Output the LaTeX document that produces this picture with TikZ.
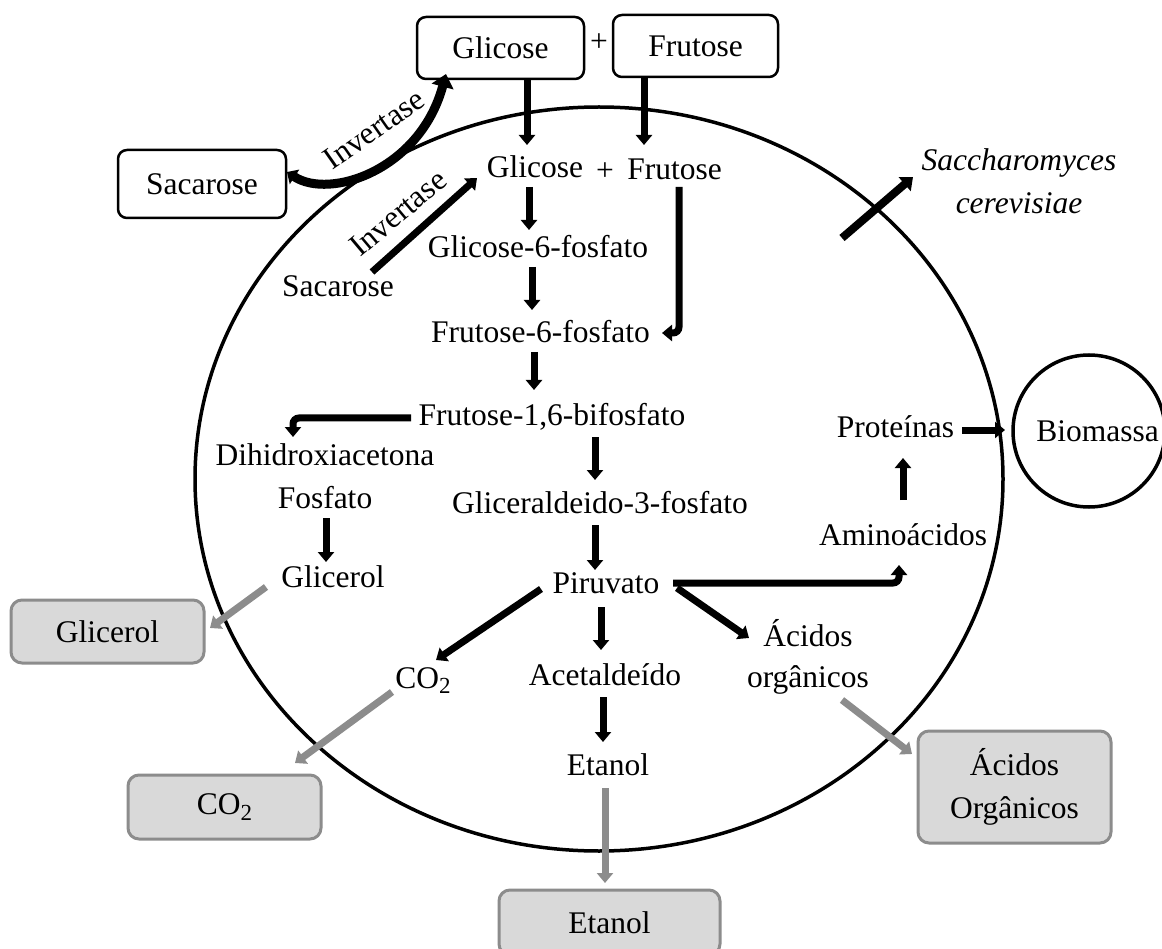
\documentclass[tikz,border=0pt]{standalone}
\usepackage{fontspec}
\setmainfont{Liberation Serif}
\usetikzlibrary{arrows.meta}
\definecolor{boxgray}{HTML}{D9D9D9}
\definecolor{edgegray}{HTML}{8C8C8C}
\definecolor{arrgray}{HTML}{8C8C8C}
\begin{document}
\begin{tikzpicture}[x=1pt,y=-1pt,
  every node/.style={font=\fontsize{31.5pt}{38pt}\selectfont, inner sep=0pt, outer sep=0pt},
  txt/.style={anchor=base},
  wbox/.style={draw=black, line width=2.5pt, rounded corners=9pt, fill=white, align=center},
  gbox/.style={draw=edgegray, line width=3pt, rounded corners=11pt, fill=boxgray, align=center},
  arr/.style={line width=7pt, -{Triangle[width=16pt,length=10pt]}},
  garr/.style={arr, draw=arrgray, -{Triangle[width=16pt,length=10pt,fill=arrgray]}},
  elb/.style={arr, rounded corners=6pt},
]
\useasboundingbox (0,0) rectangle (1162,949);

% cell membrane
\draw[line width=3.5pt] (599,479) ellipse [x radius=404pt, y radius=372pt];

% outer boxes
\node[wbox, minimum width=167pt, minimum height=62pt] (gbox1) at (500.5,48) {Glicose};
\node (plus1) at (599,43) {+};
\node[wbox, minimum width=165pt, minimum height=62pt] (fbox1) at (695.5,46) {Frutose};
\node[wbox, minimum width=168pt, minimum height=68pt] (sacbox) at (202,184) {Sacarose};

\node[gbox, minimum width=193pt, minimum height=63pt] (glybox) at (107.5,631.5) {Glicerol};
\node[gbox, minimum width=193pt, minimum height=64pt] (co2box) at (224.5,807) {CO\raisebox{-0.17em}{\fontsize{23pt}{23pt}\selectfont 2}};
\node[gbox, minimum width=221pt, minimum height=65pt] (etbox) at (609.5,922.5) {Etanol};
\node[gbox, minimum width=193pt, minimum height=112pt, font=\fontsize{31.5pt}{43pt}\selectfont] (acbox) at (1014.5,787) {Ácidos\\Orgânicos};

\node[draw, circle, line width=3.5pt, minimum size=152pt] (biocirc) at (1089,431) {};
\node (bio) at (1097.5,431) {Biomassa};

% inner texts
\node[txt] (gin) at (535,178) {Glicose};
\node[txt] (plus2) at (605,181) {+};
\node[txt] (fin) at (674.5,180) {Frutose};
\node[txt] (sin) at (338,297) {Sacarose};
\node[txt] (g6p) at (538,258) {Glicose-6-fosfato};
\node[txt] (f6p) at (540.5,343) {Frutose-6-fosfato};
\node[txt] (f16) at (552,425) {Frutose-1,6-bifosfato};
\node[txt] (dha) at (325,465) {Dihidroxiacetona};
\node[txt] (fosf) at (325,508) {Fosfato};
\node[txt] (glyin) at (333,587) {Glicerol};
\node[txt] (g3p) at (600,513) {Gliceraldeido-3-fosfato};
\node[txt] (pir) at (606,593) {Piruvato};
\node[txt] (co2in) at (423,688) {CO\raisebox{-0.17em}{\fontsize{23pt}{23pt}\selectfont 2}};
\node[txt] (acet) at (605,685) {Acetaldeído};
\node[txt] (etin) at (608,775) {Etanol};
\node[align=center, font=\fontsize{31.5pt}{41pt}\selectfont] (acin) at (808,656.5) {Ácidos\\orgânicos};
\node[txt] (amino) at (903,545) {Aminoácidos};
\node[txt] (prot) at (895.5,437) {Proteínas};
\node[align=center, font=\fontsize{31.5pt}{43pt}\selectfont\itshape] (sacch) at (1019,181) {Saccharomyces\\cerevisiae};

% enzyme labels
\node[rotate=35] (inv1) at (374,129) {Invertase};
\node[rotate=40] (inv2) at (398,213) {Invertase};

% connector end points
\path (527,80) coordinate (c1s) (527,145) coordinate (c1e)
      (644,78) coordinate (c2s) (644,145) coordinate (c2e)
      (372,272) coordinate (c3s) (477,178) coordinate (c3e)
      (529,187) coordinate (c4s) (529,230) coordinate (c4e)
      (532,267) coordinate (c5s) (532,310) coordinate (c5e)
      (679,187) coordinate (c6s) (679,333) coordinate (c6m) (662,333) coordinate (c6e)
      (534,352) coordinate (c7s) (534,390) coordinate (c7e)
      (411,418) coordinate (c8s) (293,418) coordinate (c8m) (293,437) coordinate (c8e)
      (595,437) coordinate (c9s) (595,480) coordinate (c9e)
      (326,518) coordinate (c10s) (326,562) coordinate (c10e)
      (595,525) coordinate (c11s) (595,570) coordinate (c11e)
      (541,589) coordinate (c12s) (436,660) coordinate (c12e)
      (601,607) coordinate (c13s) (601,650) coordinate (c13e)
      (603,697) coordinate (c14s) (603,742) coordinate (c14e)
      (677,588) coordinate (c15s) (749,638) coordinate (c15e)
      (673,583) coordinate (c16s) (899,583) coordinate (c16m) (899,565) coordinate (c16e)
      (903,500) coordinate (c17s) (903,458) coordinate (c17e)
      (962,430) coordinate (c18s) (1005,430) coordinate (c18e)
      (842,238) coordinate (c19s) (913,177) coordinate (c19e)
      (266,587) coordinate (g1s) (210,628) coordinate (g1e)
      (392,692) coordinate (g2s) (295,763) coordinate (g2e)
      (605,788) coordinate (g3s) (605,883) coordinate (g3e)
      (842,700) coordinate (g4s) (912,754) coordinate (g4e)
      (287,172) coordinate (csac) (446,74) coordinate (cglc);

% curved invertase arrow (outside)
\draw[line width=9pt, {Triangle[width=17pt,length=9pt]}-{Triangle[width=22pt,length=13pt]}]
  (csac) .. controls (330,200) and (420,170) .. (cglc);

% black arrows
\draw[arr] (c1s) -- (c1e);
\draw[arr] (c2s) -- (c2e);
\draw[arr] (c3s) -- (c3e);
\draw[arr] (c4s) -- (c4e);
\draw[arr] (c5s) -- (c5e);
\draw[elb] (c6s) -- (c6m) -- (c6e);
\draw[arr] (c7s) -- (c7e);
\draw[elb] (c8s) -- (c8m) -- (c8e);
\draw[arr] (c9s) -- (c9e);
\draw[arr] (c10s) -- (c10e);
\draw[arr] (c11s) -- (c11e);
\draw[arr] (c12s) -- (c12e);
\draw[arr] (c13s) -- (c13e);
\draw[arr] (c14s) -- (c14e);
\draw[arr] (c15s) -- (c15e);
\draw[elb] (c16s) -- (c16m) -- (c16e);
\draw[arr] (c17s) -- (c17e);
\draw[arr] (c18s) -- (c18e);
\draw[line width=8pt, -{Triangle[width=18pt,length=11pt]}] (c19s) -- (c19e);

% grey export arrows
\draw[garr] (g1s) -- (g1e);
\draw[garr] (g2s) -- (g2e);
\draw[garr] (g3s) -- (g3e);
\draw[garr] (g4s) -- (g4e);
\end{tikzpicture}
\end{document}
